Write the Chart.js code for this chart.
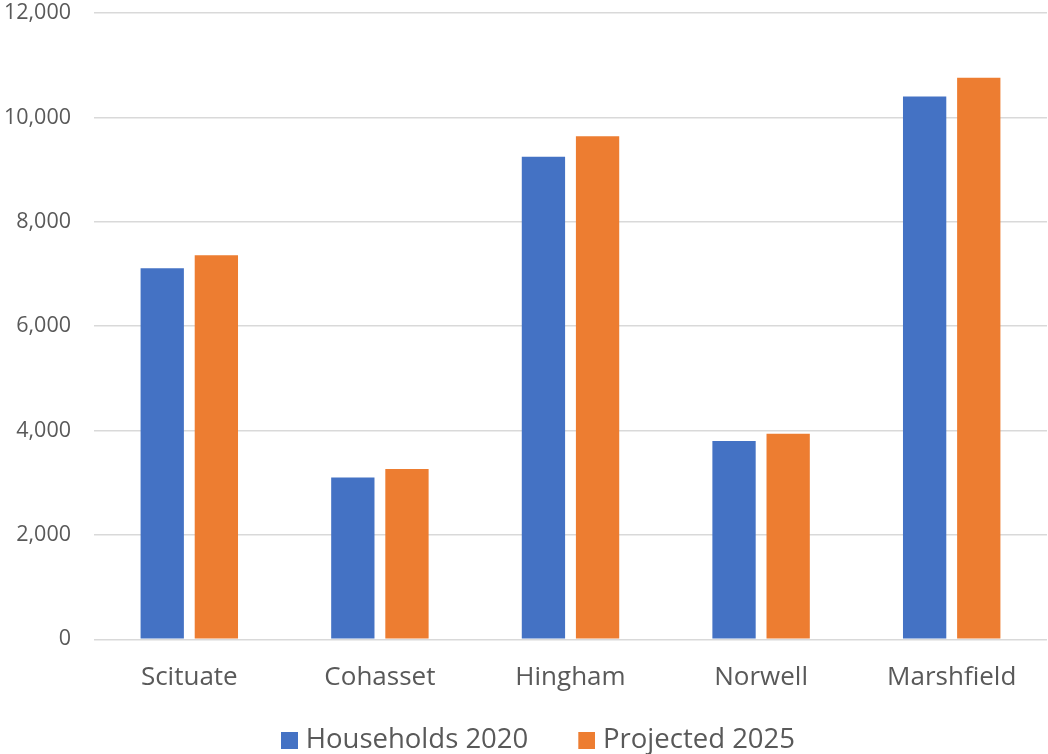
<!DOCTYPE html>
<html>
<head>
<meta charset="utf-8">
<script src="https://cdn.jsdelivr.net/npm/chart.js@4.4.1/dist/chart.umd.min.js"></script>
<style>
  html, body { margin: 0; padding: 0; background: #ffffff; }
  #wrap { width: 1048px; height: 754px; position: relative; }
</style>
</head>
<body>
<div id="wrap"><canvas id="chart" width="1048" height="754"></canvas></div>
<script>
// Town household counts
const towns = ['Scituate', 'Cohasset', 'Hingham', 'Norwell', 'Marshfield'];
const households2020 = [7110, 3100, 9245, 3800, 10400];
const projected2025 = [7360, 3262, 9640, 3940, 10760];
const seriesNames = ['Households 2020', 'Projected 2025'];
const yTicks = [0, 2000, 4000, 6000, 8000, 10000, 12000];

const seriesColors = ['#4472C4', '#ED7D31'];
const textColor = '#595959';
const gridColor = '#d9d9d9';
const fontFamily = "'Open Sans', 'Noto Sans', sans-serif";

// Legend swatch: a 17px square placed at the right end of a wider transparent
// sprite, so the legend keeps a wide gap between entries and a tight gap
// between each swatch and its label.
const SWATCH = 17;
const SLOT = 40;
const SPRITE_W = SLOT + 12;
function legendSwatch(color) {
  const c = document.createElement('canvas');
  c.width = SPRITE_W;
  c.height = SWATCH;
  const g = c.getContext('2d');
  g.fillStyle = color;
  g.fillRect(SPRITE_W - SWATCH, 0, SWATCH, SWATCH);
  return c;
}

new Chart(document.getElementById('chart'), {
  type: 'bar',
  data: {
    labels: towns,
    datasets: [
      {
        label: seriesNames[0],
        data: households2020,
        backgroundColor: seriesColors[0],
        borderWidth: 0,
        pointStyle: legendSwatch(seriesColors[0]),
        categoryPercentage: 0.568,
        barPercentage: 0.8
      },
      {
        label: seriesNames[1],
        data: projected2025,
        backgroundColor: seriesColors[1],
        borderWidth: 0,
        pointStyle: legendSwatch(seriesColors[1]),
        categoryPercentage: 0.568,
        barPercentage: 0.8
      }
    ]
  },
  options: {
    responsive: false,
    animation: false,
    layout: { padding: { top: 13, right: 1, left: 0, bottom: -9.75 } },
    plugins: {
      tooltip: { enabled: false },
      legend: {
        position: 'bottom',
        labels: {
          color: textColor,
          font: { family: fontFamily, size: 27.5 },
          usePointStyle: true,
          pointStyleWidth: SLOT,
          boxWidth: SWATCH,
          boxHeight: SWATCH,
          padding: 21
        }
      }
    },
    scales: {
      x: {
        afterFit: (axis) => { axis.height = 66; },
        grid: { display: false, drawTicks: false },
        border: { display: false },
        ticks: {
          color: textColor,
          font: { family: fontFamily, size: 26 },
          padding: 23
        }
      },
      y: {
        min: 0,
        max: 12000,
        afterBuildTicks: (axis) => { axis.ticks = yTicks.map(v => ({ value: v })); },
        afterFit: (axis) => { axis.width = 94; },
        grid: {
          color: gridColor,
          lineWidth: 1.5,
          drawTicks: true,
          tickLength: 23,
          tickColor: 'rgba(0,0,0,0)'
        },
        border: { display: false },
        ticks: {
          color: textColor,
          font: { family: fontFamily, size: 21.5 },
          padding: 0,
          callback: (v) => v.toLocaleString('en-US')
        }
      }
    }
  }
});
</script>
</body>
</html>
